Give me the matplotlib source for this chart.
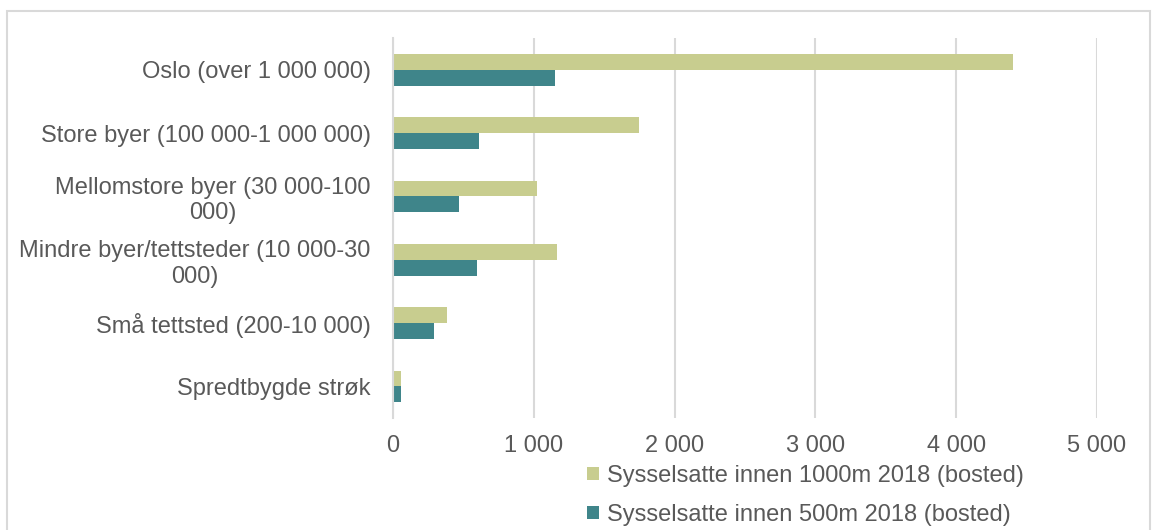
import matplotlib
matplotlib.use("Agg")
import matplotlib.pyplot as plt
from matplotlib.patches import Rectangle, Patch
import numpy as np

plt.rcParams['font.family'] = ['Liberation Sans', 'DejaVu Sans']

categories = [
    "Oslo (over 1 000 000)",
    "Store byer (100 000-1 000 000)",
    "Mellomstore byer (30 000-100\n000)",
    "Mindre byer/tettsteder (10 000-30\n000)",
    "Små tettsted (200-10 000)",
    "Spredtbygde strøk",
]
within_1000m = [4400, 1750, 1025, 1165, 385, 60]
within_500m = [1150, 610, 470, 600, 290, 60]
series_labels = [
    "Sysselsatte innen 1000m 2018 (bosted)",
    "Sysselsatte innen 500m 2018 (bosted)",
]
x_ticks = [0, 1000, 2000, 3000, 4000, 5000]
x_tick_labels = ["0", "1 000", "2 000", "3 000", "4 000", "5 000"]

OLIVE = "#c8cd8f"
TEAL = "#3f858a"
TEXT = "#595959"
GRID = "#d9d9d9"

W, H = 1152, 530
fig = plt.figure(figsize=(W / 100, H / 100), dpi=100)
ax = fig.add_axes([393 / W, 1 - 418 / H, (1097 - 393) / W, (418 - 38) / H])

y = np.arange(len(categories))
bh = 0.25
ax.barh(y - bh / 2, within_1000m, height=bh, color=OLIVE, label=series_labels[0])
ax.barh(y + bh / 2, within_500m, height=bh, color=TEAL, label=series_labels[1])

ax.set_ylim(len(categories) - 0.5, -0.5)
ax.set_xlim(0, 5000)
ax.set_xticks(x_ticks)
ax.set_xticklabels(x_tick_labels)
ax.set_yticks(y)
ax.set_yticklabels(categories, multialignment="center")

ax.tick_params(axis="x", length=0, pad=12, labelsize=17, labelcolor=TEXT)
ax.tick_params(axis="y", length=0, pad=16, labelsize=17, labelcolor=TEXT)

ax.grid(axis="x", color=GRID, linewidth=1.5)
ax.set_axisbelow(True)
for side in ["top", "right", "bottom"]:
    ax.spines[side].set_visible(False)
ax.spines["left"].set_color(GRID)
ax.spines["left"].set_linewidth(1.5)

handles = [Patch(facecolor=OLIVE), Patch(facecolor=TEAL)]
fig.legend(handles, series_labels, loc="upper left",
           bbox_to_anchor=(587 / W, 1 - 465 / H), frameon=False,
           fontsize=17, labelcolor=TEXT, handlelength=0.5, handleheight=0.5,
           handletextpad=0.35, labelspacing=0.72, borderpad=0, borderaxespad=0)

fig.patches.append(Rectangle((6.5 / W, -0.1), (1150 - 6.5) / W, 1.1 - 11.5 / H,
                             transform=fig.transFigure, fill=False,
                             edgecolor=GRID, linewidth=1.5))

fig.savefig("out.png", dpi=100)
